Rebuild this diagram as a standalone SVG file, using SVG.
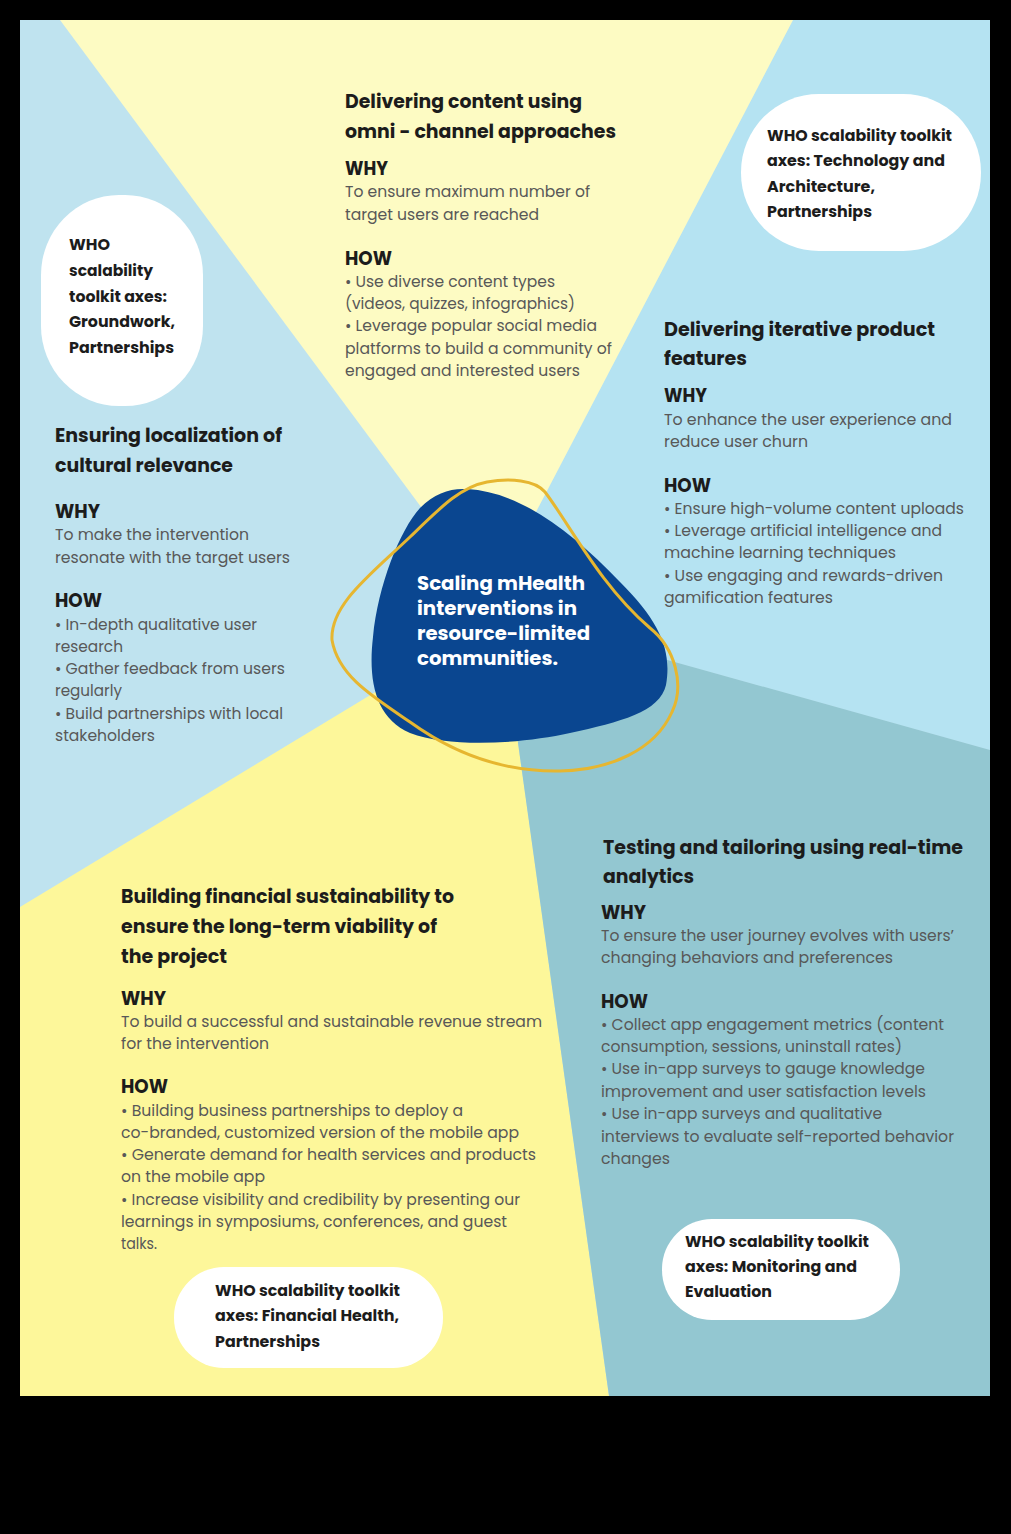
<svg xmlns="http://www.w3.org/2000/svg" width="1011" height="1534" viewBox="0 0 1011 1534">
<style>
.h{font-family:"Poppins","Open Sans",sans-serif;font-weight:700;font-size:19px;fill:#1c1c1c}
.b{font-family:"Poppins","Open Sans",sans-serif;font-size:16px;fill:#585858}
.p{font-family:"Poppins","Open Sans",sans-serif;font-weight:700;font-size:15px;fill:#1c1c1c}
.c{font-family:"Poppins","Open Sans",sans-serif;font-weight:700;font-size:18.5px;fill:#ffffff}
.pill{fill:#ffffff}
</style>
<rect x="0" y="0" width="1011" height="1534" fill="#000000"/>
<g id="background">
<rect x="20" y="20" width="970" height="1376" fill="#BFE3EF"/>
<polygon points="793,20 990,20 990,750 560,630 490,600" fill="#B5E3F2"/>
<polygon points="60,20 793,20 490,600" fill="#FDFBC3"/>
<polygon points="20,907 420,665 515,720 609,1396 20,1396" fill="#FDF79A"/>
<polygon points="512,700 560,630 990,750 990,1396 609,1396" fill="#93C7D1"/>
</g>
<g id="center">
<path d="M 467,489 C 520,492 570,530 620,582 C 660,622 672,650 666,685 C 660,712 620,722 570,733 C 520,744 450,748 410,733 C 375,718 368,680 373,637 C 378,585 400,530 420,508 C 435,493 450,488 467,489 Z" fill="#0A4690"/>
<path d="M 487,482 C 510,478 535,480 545,492 C 570,525 600,585 650,628 C 675,648 685,685 672,712 C 655,750 610,770 560,771 C 510,772 460,758 410,722 C 370,695 338,675 332,640 C 330,605 370,575 410,537 C 440,508 460,487 487,482 Z" fill="none" stroke="#E6B630" stroke-width="3"/>
<text class="c" x="417" y="590" textLength="168" lengthAdjust="spacingAndGlyphs">Scaling mHealth</text>
<text class="c" x="417" y="615" textLength="160" lengthAdjust="spacingAndGlyphs">interventions in</text>
<text class="c" x="417" y="640" textLength="173" lengthAdjust="spacingAndGlyphs">resource-limited</text>
<text class="c" x="417" y="665" textLength="141" lengthAdjust="spacingAndGlyphs">communities.</text>
</g>
<g id="omni-channel">
<text class="h" x="345" y="108" textLength="237" lengthAdjust="spacingAndGlyphs">Delivering content using</text>
<text class="h" x="345" y="138" textLength="271" lengthAdjust="spacingAndGlyphs">omni - channel approaches</text>
<text class="h" x="345" y="175" textLength="43" lengthAdjust="spacingAndGlyphs">WHY</text>
<text class="b" x="345" y="197" textLength="245" lengthAdjust="spacingAndGlyphs">To ensure maximum number of</text>
<text class="b" x="345" y="220" textLength="194" lengthAdjust="spacingAndGlyphs">target users are reached</text>
<text class="h" x="345" y="265" textLength="47" lengthAdjust="spacingAndGlyphs">HOW</text>
<text class="b" x="345" y="287" textLength="210" lengthAdjust="spacingAndGlyphs">• Use diverse content types</text>
<text class="b" x="345" y="309" textLength="230" lengthAdjust="spacingAndGlyphs">(videos, quizzes, infographics)</text>
<text class="b" x="345" y="331" textLength="252" lengthAdjust="spacingAndGlyphs">• Leverage popular social media</text>
<text class="b" x="345" y="354" textLength="267" lengthAdjust="spacingAndGlyphs">platforms to build a community of</text>
<text class="b" x="345" y="376" textLength="235" lengthAdjust="spacingAndGlyphs">engaged and interested users</text>
</g>
<g id="who-tech">
<rect class="pill" x="741" y="94" width="240" height="157" rx="78" ry="78"/>
<text class="p" x="767" y="141" textLength="185" lengthAdjust="spacingAndGlyphs">WHO scalability toolkit</text>
<text class="p" x="767" y="166" textLength="178" lengthAdjust="spacingAndGlyphs">axes: Technology and</text>
<text class="p" x="767" y="192" textLength="108" lengthAdjust="spacingAndGlyphs">Architecture,</text>
<text class="p" x="767" y="217" textLength="105" lengthAdjust="spacingAndGlyphs">Partnerships</text>
</g>
<g id="iterative">
<text class="h" x="664" y="336" textLength="271" lengthAdjust="spacingAndGlyphs">Delivering iterative product</text>
<text class="h" x="664" y="365" textLength="83" lengthAdjust="spacingAndGlyphs">features</text>
<text class="h" x="664" y="402" textLength="43" lengthAdjust="spacingAndGlyphs">WHY</text>
<text class="b" x="664" y="425" textLength="288" lengthAdjust="spacingAndGlyphs">To enhance the user experience and</text>
<text class="b" x="664" y="447" textLength="144" lengthAdjust="spacingAndGlyphs">reduce user churn</text>
<text class="h" x="664" y="492" textLength="47" lengthAdjust="spacingAndGlyphs">HOW</text>
<text class="b" x="664" y="514" textLength="300" lengthAdjust="spacingAndGlyphs">• Ensure high-volume content uploads</text>
<text class="b" x="664" y="536" textLength="278" lengthAdjust="spacingAndGlyphs">• Leverage artificial intelligence and</text>
<text class="b" x="664" y="558" textLength="232" lengthAdjust="spacingAndGlyphs">machine learning techniques</text>
<text class="b" x="664" y="581" textLength="279" lengthAdjust="spacingAndGlyphs">• Use engaging and rewards-driven</text>
<text class="b" x="664" y="603" textLength="169" lengthAdjust="spacingAndGlyphs">gamification features</text>
</g>
<g id="who-groundwork">
<rect class="pill" x="41" y="195" width="162" height="211" rx="78" ry="80"/>
<text class="p" x="69" y="250" textLength="41" lengthAdjust="spacingAndGlyphs">WHO</text>
<text class="p" x="69" y="276" textLength="84" lengthAdjust="spacingAndGlyphs">scalability</text>
<text class="p" x="69" y="302" textLength="98" lengthAdjust="spacingAndGlyphs">toolkit axes:</text>
<text class="p" x="69" y="327" textLength="106" lengthAdjust="spacingAndGlyphs">Groundwork,</text>
<text class="p" x="69" y="353" textLength="105" lengthAdjust="spacingAndGlyphs">Partnerships</text>
</g>
<g id="localization">
<text class="h" x="55" y="442" textLength="227" lengthAdjust="spacingAndGlyphs">Ensuring localization of</text>
<text class="h" x="55" y="472" textLength="178" lengthAdjust="spacingAndGlyphs">cultural relevance</text>
<text class="h" x="55" y="518" textLength="45" lengthAdjust="spacingAndGlyphs">WHY</text>
<text class="b" x="55" y="540" textLength="194" lengthAdjust="spacingAndGlyphs">To make the intervention</text>
<text class="b" x="55" y="563" textLength="235" lengthAdjust="spacingAndGlyphs">resonate with the target users</text>
<text class="h" x="55" y="607" textLength="47" lengthAdjust="spacingAndGlyphs">HOW</text>
<text class="b" x="55" y="630" textLength="202" lengthAdjust="spacingAndGlyphs">• In-depth qualitative user</text>
<text class="b" x="55" y="652" textLength="68" lengthAdjust="spacingAndGlyphs">research</text>
<text class="b" x="55" y="674" textLength="230" lengthAdjust="spacingAndGlyphs">• Gather feedback from users</text>
<text class="b" x="55" y="696" textLength="67" lengthAdjust="spacingAndGlyphs">regularly</text>
<text class="b" x="55" y="719" textLength="228" lengthAdjust="spacingAndGlyphs">• Build partnerships with local</text>
<text class="b" x="55" y="741" textLength="100" lengthAdjust="spacingAndGlyphs">stakeholders</text>
</g>
<g id="financial">
<text class="h" x="121" y="903" textLength="333" lengthAdjust="spacingAndGlyphs">Building financial sustainability to</text>
<text class="h" x="121" y="933" textLength="316" lengthAdjust="spacingAndGlyphs">ensure the long-term viability of</text>
<text class="h" x="121" y="963" textLength="106" lengthAdjust="spacingAndGlyphs">the project</text>
<text class="h" x="121" y="1005" textLength="45" lengthAdjust="spacingAndGlyphs">WHY</text>
<text class="b" x="121" y="1027" textLength="421" lengthAdjust="spacingAndGlyphs">To build a successful and sustainable revenue stream</text>
<text class="b" x="121" y="1049" textLength="148" lengthAdjust="spacingAndGlyphs">for the intervention</text>
<text class="h" x="121" y="1093" textLength="47" lengthAdjust="spacingAndGlyphs">HOW</text>
<text class="b" x="121" y="1116" textLength="342" lengthAdjust="spacingAndGlyphs">• Building business partnerships to deploy  a</text>
<text class="b" x="121" y="1138" textLength="398" lengthAdjust="spacingAndGlyphs">co-branded, customized version of the mobile app</text>
<text class="b" x="121" y="1160" textLength="415" lengthAdjust="spacingAndGlyphs">• Generate demand for health services and products</text>
<text class="b" x="121" y="1182" textLength="144" lengthAdjust="spacingAndGlyphs">on the mobile app</text>
<text class="b" x="121" y="1205" textLength="399" lengthAdjust="spacingAndGlyphs">• Increase visibility and credibility by presenting our</text>
<text class="b" x="121" y="1227" textLength="386" lengthAdjust="spacingAndGlyphs">learnings in symposiums, conferences, and guest</text>
<text class="b" x="121" y="1249" textLength="36" lengthAdjust="spacingAndGlyphs">talks.</text>
</g>
<g id="who-financial">
<rect class="pill" x="174" y="1267" width="269" height="101" rx="50" ry="50"/>
<text class="p" x="215" y="1296" textLength="185" lengthAdjust="spacingAndGlyphs">WHO scalability toolkit</text>
<text class="p" x="215" y="1321" textLength="184" lengthAdjust="spacingAndGlyphs">axes: Financial Health,</text>
<text class="p" x="215" y="1347" textLength="105" lengthAdjust="spacingAndGlyphs">Partnerships</text>
</g>
<g id="testing">
<text class="h" x="603" y="854" textLength="360" lengthAdjust="spacingAndGlyphs">Testing and tailoring using real-time</text>
<text class="h" x="603" y="883" textLength="91" lengthAdjust="spacingAndGlyphs">analytics</text>
<text class="h" x="601" y="919" textLength="45" lengthAdjust="spacingAndGlyphs">WHY</text>
<text class="b" x="601" y="941" textLength="353" lengthAdjust="spacingAndGlyphs">To ensure the user journey evolves with users’</text>
<text class="b" x="601" y="963" textLength="292" lengthAdjust="spacingAndGlyphs">changing behaviors and preferences</text>
<text class="h" x="601" y="1008" textLength="47" lengthAdjust="spacingAndGlyphs">HOW</text>
<text class="b" x="601" y="1030" textLength="343" lengthAdjust="spacingAndGlyphs">• Collect app engagement metrics (content</text>
<text class="b" x="601" y="1052" textLength="301" lengthAdjust="spacingAndGlyphs">consumption, sessions, uninstall rates)</text>
<text class="b" x="601" y="1074" textLength="324" lengthAdjust="spacingAndGlyphs">• Use in-app surveys to gauge knowledge</text>
<text class="b" x="601" y="1097" textLength="325" lengthAdjust="spacingAndGlyphs">improvement and user satisfaction levels</text>
<text class="b" x="601" y="1119" textLength="281" lengthAdjust="spacingAndGlyphs">• Use in-app surveys and qualitative</text>
<text class="b" x="601" y="1142" textLength="353" lengthAdjust="spacingAndGlyphs">interviews to evaluate self-reported behavior</text>
<text class="b" x="601" y="1164" textLength="69" lengthAdjust="spacingAndGlyphs">changes</text>
</g>
<g id="who-monitoring">
<rect class="pill" x="662" y="1219" width="238" height="101" rx="50" ry="50"/>
<text class="p" x="685" y="1247" textLength="184" lengthAdjust="spacingAndGlyphs">WHO scalability toolkit</text>
<text class="p" x="685" y="1272" textLength="172" lengthAdjust="spacingAndGlyphs">axes: Monitoring and</text>
<text class="p" x="685" y="1297" textLength="87" lengthAdjust="spacingAndGlyphs">Evaluation</text>
</g>
</svg>
